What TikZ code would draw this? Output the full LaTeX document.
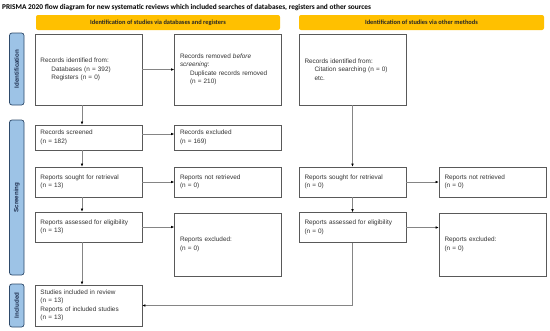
\documentclass[tikz,border=0pt]{standalone}
\usepackage{fontspec}
\setmainfont{Liberation Sans}
\newfontfamily\carl{Carlito}
\usetikzlibrary{arrows.meta}
\definecolor{hdrfill}{HTML}{FFC000}
\definecolor{hdrtext}{HTML}{262626}
\definecolor{phasefill}{HTML}{9DC3E6}
\definecolor{phaseline}{HTML}{2E4A6B}
\definecolor{phasetext}{HTML}{1F2F4F}
\definecolor{boxline}{HTML}{595959}
\definecolor{conn}{HTML}{858585}
\definecolor{boxtext}{HTML}{333333}
\begin{document}
\begin{tikzpicture}[x=1pt,y=-1pt,
  pbox/.style={draw=boxline, line width=0.65pt, rectangle, fill=white,
    minimum width=107pt, text width=96pt, inner xsep=5.5pt, inner ysep=1pt,
    minimum height=#1, align=left, text=boxtext,
    font=\fontsize{6.4}{8.4}\selectfont},
  phase/.style={draw=phaseline, line width=0.7pt, fill=phasefill, rounded corners=2.5pt,
    rotate=90, minimum width=#1, minimum height=14.5pt, inner sep=0pt,
    text=phasetext, font=\bfseries\fontsize{6.2}{7}\selectfont},
  hdr/.style={fill=hdrfill, rounded corners=2pt, minimum height=15pt, minimum width=#1,
    inner sep=0pt, text=hdrtext, font=\carl\bfseries\fontsize{6.4}{7}\selectfont},
  conarrow/.style={draw=conn, line width=0.55pt, -{Latex[length=3pt,width=2.6pt,color=black]}},
  conline/.style={draw=conn, line width=0.55pt}
]
\useasboundingbox (0,0) rectangle (550,330);
\fill[white] (0,0) rectangle (550,330);

% title
\node[anchor=west, inner sep=0pt, font=\carl\bfseries\fontsize{7.35}{8}\selectfont] (title) at (2,8)
  {PRISMA 2020 flow diagram for new systematic reviews which included searches of databases, registers and other sources};

% headers
\node[hdr=244pt] (h1) at (158,22.5) {Identification of studies via databases and registers};
\node[hdr=245pt] (h2) at (421.5,22.5) {Identification of studies via other methods};

% phases
\node[phase=72pt] (p1) at (16.75,69) {Identification};
\node[phase=155pt] (p2) at (16.75,197.5) {Screening};
\node[phase=43pt] (p3) at (16.75,305.5) {Included};

% left column
\node[pbox=71pt] (id) at (88.5,69.5) {Records identified from:\\\hspace*{11pt}Databases (n = 392)\\\hspace*{11pt}Registers (n = 0)};
\node[pbox=25pt] (scr) at (88.5,137.5) {Records screened\\(n = 182)};
\node[pbox=30pt] (sou) at (88.5,182) {Reports sought for retrieval\\(n = 13)};
\node[pbox=30pt] (ass) at (88.5,227) {Reports assessed for eligibility\\(n = 13)};
\node[pbox=41pt] (inc) at (88.5,305.5) {Studies included in review\\(n = 13)\\Reports of included studies\\(n = 13)};

% middle column
\node[pbox=71pt] (rem) at (228,69.5) {Records removed \textit{before}\\\textit{screening}:\\\hspace*{10pt}Duplicate records removed\\\hspace*{10pt}(n = 210)};
\node[pbox=25pt] (exc) at (228,137.5) {Records excluded\\(n = 169)};
\node[pbox=30pt] (nret) at (228,182) {Reports not retrieved\\(n = 0)};
\node[pbox=63pt] (rex) at (228,244.5) {Reports excluded:\\(n = 0)};

% other methods column
\node[pbox=71pt] (oid) at (352.5,69.5) {Records identified from:\\\hspace*{10pt}Citation searching (n = 0)\\\hspace*{10pt}etc.};
\node[pbox=30pt] (osou) at (352.5,182) {Reports sought for retrieval\\(n = 0)};
\node[pbox=30pt] (oass) at (352.5,227.5) {Reports assessed for eligibility\\(n = 0)};
\node[pbox=30pt] (onret) at (492.5,182) {Reports not retrieved\\(n = 0)};
\node[pbox=63pt] (orex) at (492.5,244.5) {Reports excluded:\\(n = 0)};

% left vertical connectors
\draw[conarrow] ([xshift=-6.5pt]id.south) -- ([xshift=-6.5pt]scr.north);
\draw[conarrow] ([xshift=-6.5pt]scr.south) -- ([xshift=-6.5pt]sou.north);
\draw[conarrow] ([xshift=-6.5pt]sou.south) -- ([xshift=-6.5pt]ass.north);
\draw[conarrow] ([xshift=-6.5pt]ass.south) -- ([xshift=-6.5pt]inc.north);

% left horizontal connectors
\draw[conarrow] (id.east) -- (rem.west);
\draw[conarrow] ([yshift=3.5pt]scr.east) -- ([yshift=3.5pt]exc.west);
\draw[conarrow] (sou.east) -- (nret.west);
\draw[conarrow] (ass.east) -- (ass.east -| rex.west);

% other methods connectors
\draw[conarrow] (oid.south) -- (osou.north);
\draw[conarrow] (osou.south) -- (oass.north);
\draw[conarrow] (osou.east) -- (onret.west);
\draw[conarrow] (oass.east) -- (oass.east -| orex.west);
\draw[conarrow] (oass.south) |- (inc.east);
\end{tikzpicture}
\end{document}
